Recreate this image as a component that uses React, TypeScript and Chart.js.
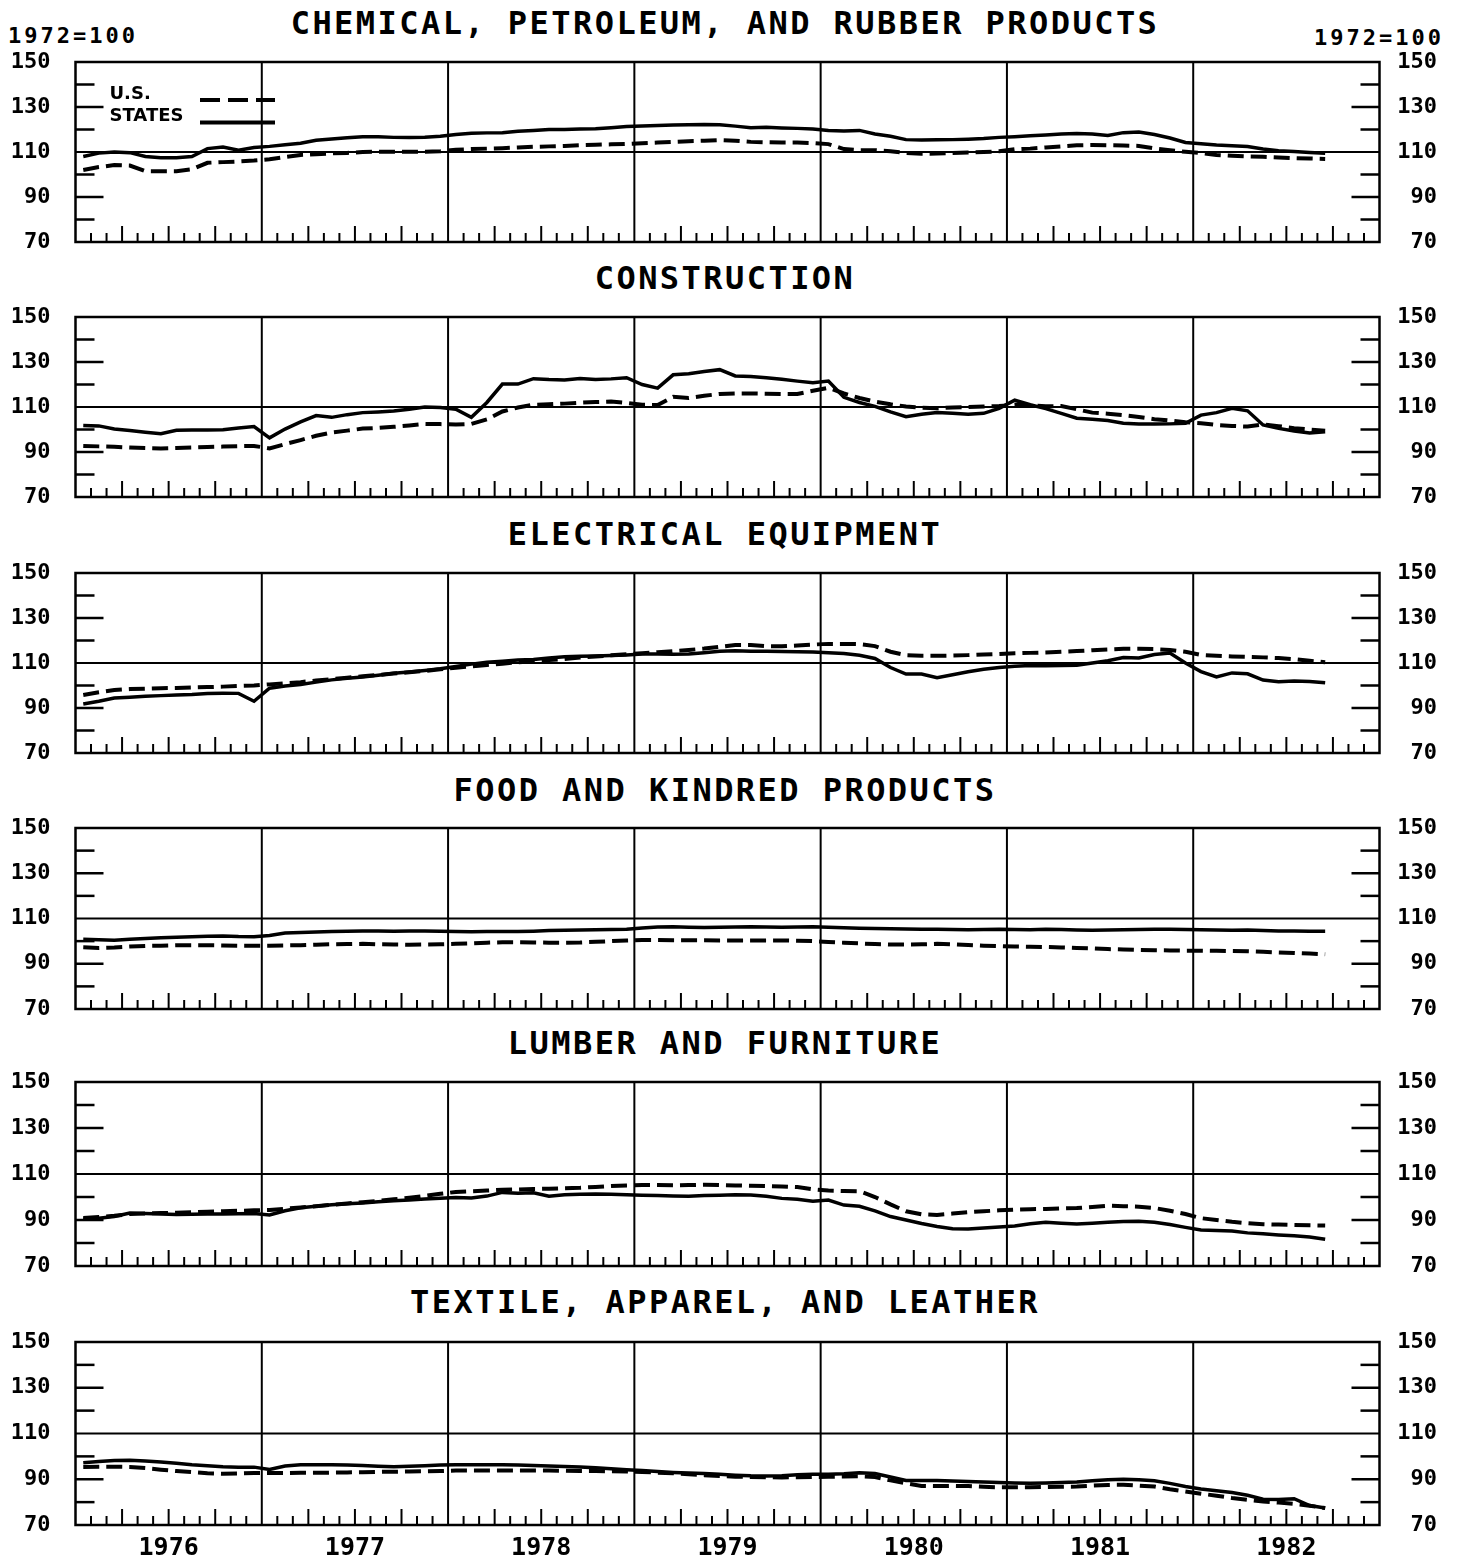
import React, { useEffect, useRef } from "react";
import { Chart, registerables } from "chart.js";

Chart.register(...registerables);

// ---------- DATA (monthly, Jan 1976 - Sep 1982, index 1972=100) ----------
const yearLabels = ["1976", "1977", "1978", "1979", "1980", "1981", "1982"];
const yTickValues = [70, 90, 110, 130, 150];
const seriesLabels = ["U.S.", "STATES"];
const indexBaseLabel = "1972=100";

const chemStates = [108, 109.5, 110, 109.7, 108, 107.5, 107.5, 108, 111.5, 112.2, 110.8, 112,
  112.5, 113.2, 113.9, 115.2, 115.8, 116.3, 116.8, 116.8, 116.5, 116.4, 116.6, 117,
  117.8, 118.3, 118.5, 118.6, 119.2, 119.6, 120, 120, 120.2, 120.3, 120.8, 121.3,
  121.6, 121.8, 122, 122.1, 122.2, 122.1, 121.5, 120.8, 121, 120.7, 120.5, 120.2,
  119.6, 119.3, 119.6, 118, 117, 115.5, 115.3, 115.4, 115.5, 115.7, 116, 116.5,
  116.8, 117.2, 117.6, 118, 118.2, 118, 117.3, 118.6, 118.9, 117.8, 116.2, 114.2,
  113.7, 113.1, 112.8, 112.4, 111.3, 110.6, 110.2, 109.8, 109.4];
const chemUS = [102, 103.3, 104.2, 104, 101.5, 101.5, 101.5, 102.3, 105.2, 105.5, 105.8, 106.2,
  106.8, 107.8, 108.7, 109, 109.4, 109.6, 110, 110.1, 110.1, 110.1, 110.1, 110.3,
  111, 111.3, 111.5, 111.7, 112, 112.3, 112.5, 112.7, 113, 113.2, 113.4, 113.6,
  113.9, 114.2, 114.5, 114.8, 115, 115.3, 115, 114.5, 114.3, 114.2, 114.2, 114,
  113.5, 111.3, 110.8, 110.8, 110.3, 109.6, 109.2, 109.3, 109.6, 109.8, 110, 110.3,
  111.2, 111.5, 112, 112.5, 113, 113.1, 113, 112.9, 112.7, 111.6, 110.8, 110.1,
  109.5, 108.7, 108.3, 108, 107.9, 107.6, 107.3, 107.1, 106.9];

const consStates = [101.8, 101.6, 100.2, 99.6, 98.8, 98.1, 99.7, 99.8, 99.8, 99.9, 100.7, 101.3,
  96.3, 100.2, 103.4, 106.2, 105.4, 106.6, 107.5, 107.8, 108.2, 109, 110, 109.8,
  109, 105.4, 112, 120.2, 120.2, 122.6, 122.2, 122, 122.7, 122.2, 122.5, 123,
  120, 118.4, 124.3, 124.8, 125.8, 126.6, 123.8, 123.6, 123, 122.3, 121.5, 120.8,
  121.5, 114.3, 112, 110.3, 107.8, 105.7, 106.8, 107.6, 107.2, 106.8, 107.2, 109.4,
  113, 111, 109.3, 107.2, 105, 104.6, 104, 102.8, 102.4, 102.4, 102.5, 102.8,
  106.4, 107.5, 109.4, 108.3, 102, 100.5, 99.3, 98.4, 99];
const consUS = [92.7, 92.5, 92.3, 92, 91.8, 91.6, 91.8, 92, 92.2, 92.4, 92.6, 92.7,
  91.6, 93.5, 95.3, 97.2, 98.7, 99.5, 100.4, 100.7, 101.2, 101.8, 102.5, 102.4,
  102.2, 102.5, 104.5, 108, 109.8, 111, 111.2, 111.5, 111.9, 112.2, 112.4, 111.8,
  111, 110.9, 114.5, 114, 115, 115.8, 116, 116, 115.9, 115.8, 115.8, 117.2,
  118.5, 116, 114, 112.4, 111.2, 110.2, 109.7, 109.4, 109.8, 110, 110.2, 110.4,
  111, 110.8, 110.3, 110.4, 109, 107.5, 107, 106.4, 105.6, 104.6, 104, 103.2,
  102.8, 102, 101.6, 101.3, 102.2, 101.5, 100.6, 100, 99.5];

const elecStates = [91.8, 93, 94.4, 94.8, 95.2, 95.5, 95.8, 96, 96.4, 96.6, 96.5, 93,
  98.8, 99.8, 100.4, 101.5, 102.5, 103.2, 103.8, 104.6, 105.4, 106, 106.7, 107.4,
  108.4, 109.5, 110.3, 110.8, 111.3, 111.6, 112.2, 112.8, 113, 113.1, 113.3, 113.6,
  114, 114, 113.9, 114, 114.6, 115.2, 115.4, 115.2, 115.2, 115.1, 115, 114.9,
  114.6, 114.2, 113.4, 112, 108, 105.1, 105.1, 103.5, 104.8, 106.1, 107.2, 108,
  108.6, 108.9, 108.8, 108.9, 109, 110, 111, 112.4, 112.2, 113.8, 114.4, 110,
  106.2, 103.8, 105.6, 105.2, 102.4, 101.7, 102, 101.8, 101.2];
const elecUS = [95.8, 97, 98, 98.4, 98.6, 98.8, 98.9, 99.1, 99.3, 99.5, 99.8, 100,
  100.5, 101, 101.5, 102.2, 102.8, 103.5, 104.1, 104.7, 105.3, 105.9, 106.5, 107.2,
  107.9, 108.5, 109.1, 109.7, 110.3, 110.8, 111.3, 111.8, 112.4, 112.9, 113.4, 113.9,
  114.3, 114.8, 115.3, 115.8, 116.4, 117.2, 118, 118, 117.5, 117.4, 117.8, 118.2,
  118.5, 118.5, 118.4, 117.5, 115, 113.5, 113.2, 113.2, 113.3, 113.5, 113.8, 114,
  114.3, 114.5, 114.7, 115, 115.3, 115.7, 116, 116.3, 116.3, 116.2, 115.8, 115,
  113.6, 113.2, 112.9, 112.7, 112.5, 112.2, 111.7, 111, 110.3];

const foodStates = [100.8, 100.6, 100.4, 100.8, 101.2, 101.5, 101.7, 101.9, 102.1, 102.3, 102, 101.9,
  102.5, 103.6, 103.8, 104, 104.3, 104.4, 104.5, 104.5, 104.4, 104.5, 104.5, 104.4,
  104.2, 104.1, 104.2, 104.3, 104.2, 104.4, 104.7, 104.8, 104.9, 105, 105.1, 105.3,
  105.8, 106.2, 106.3, 106.1, 106, 106.1, 106.2, 106.3, 106.2, 106.1, 106.2, 106.3,
  106.1, 105.9, 105.7, 105.6, 105.5, 105.4, 105.3, 105.2, 105.1, 105, 105.1, 105.2,
  105.1, 105, 105.2, 105.1, 104.9, 104.8, 104.9, 105, 105.1, 105.2, 105.3, 105.1,
  105, 104.9, 104.8, 104.9, 104.7, 104.5, 104.5, 104.4, 104.4];
const foodUS = [97.3, 97, 97.2, 97.6, 97.9, 98, 98.2, 98.2, 98.2, 98.1, 98, 98,
  98, 98.1, 98.2, 98.4, 98.6, 98.7, 98.8, 98.6, 98.5, 98.4, 98.5, 98.6,
  98.8, 99, 99.3, 99.5, 99.5, 99.4, 99.3, 99.3, 99.4, 99.7, 100, 100.3,
  100.5, 100.5, 100.4, 100.4, 100.4, 100.3, 100.3, 100.3, 100.3, 100.3, 100.2, 100,
  99.6, 99.3, 99, 98.7, 98.5, 98.5, 98.6, 98.8, 98.6, 98.3, 98, 97.8,
  97.6, 97.5, 97.4, 97.2, 97, 96.8, 96.5, 96.3, 96.1, 96, 95.9, 95.8,
  95.8, 95.7, 95.6, 95.5, 95.3, 95, 94.8, 94.5, 94.2];

const lumberStates = [90.4, 90.8, 91.5, 93, 92.8, 92.6, 92.4, 92.5, 92.6, 92.6, 92.7, 92.8,
  92.2, 94, 95.3, 96, 96.6, 97.1, 97.4, 97.9, 98.4, 98.7, 99.1, 99.5,
  99.8, 99.6, 100.4, 102, 101.6, 101.8, 100.3, 101, 101.2, 101.3, 101.2, 101,
  100.8, 100.6, 100.4, 100.3, 100.6, 100.8, 101, 100.9, 100.3, 99.4, 99, 98.2,
  98.7, 96.5, 96, 94, 91.5, 90, 88.5, 87.2, 86.2, 86.1, 86.5, 87,
  87.4, 88.4, 89, 88.6, 88.3, 88.6, 89, 89.3, 89.5, 89, 88, 86.8,
  85.7, 85.4, 85.2, 84.4, 84, 83.5, 83.1, 82.6, 81.6];
const lumberUS = [90.9, 91.3, 91.8, 92.6, 92.8, 93, 93.2, 93.4, 93.6, 93.8, 94, 94.2,
  94.4, 94.9, 95.4, 96, 96.6, 97.2, 97.7, 98.3, 99, 99.7, 100.5, 101.4,
  102.2, 102.5, 102.8, 103.2, 103.3, 103.5, 103.6, 103.8, 104, 104.4, 104.8, 105,
  105.2, 105.2, 105.1, 105.2, 105.3, 105.2, 105, 104.9, 104.8, 104.6, 104.3, 103.3,
  102.8, 102.6, 102.5, 100, 96.8, 93.8, 92.5, 92.2, 92.8, 93.4, 93.8, 94.2,
  94.5, 94.7, 94.8, 95, 95.2, 95.7, 96.2, 96, 95.8, 95.2, 94, 92.6,
  90.8, 90, 89.2, 88.6, 88.2, 88, 87.8, 87.7, 87.6];

const textStates = [97.2, 97.8, 98.2, 98.3, 98, 97.5, 97, 96.3, 95.9, 95.5, 95.3, 95.3,
  94.3, 95.8, 96.3, 96.3, 96.3, 96.2, 96, 95.7, 95.5, 95.7, 95.9, 96.2,
  96.3, 96.3, 96.3, 96.3, 96.2, 96, 95.8, 95.6, 95.4, 95, 94.6, 94.2,
  93.8, 93.4, 93, 92.7, 92.5, 92.2, 91.8, 91.5, 91.4, 91.5, 92, 92.2,
  92.2, 92.4, 92.8, 92.5, 91, 89.5, 89.5, 89.4, 89.2, 89, 88.8, 88.6,
  88.4, 88.3, 88.4, 88.6, 88.8, 89.3, 89.8, 90, 89.8, 89.3, 88.2, 86.8,
  85.7, 85, 84.2, 83, 81.3, 81.2, 81.5, 78.5, 77.4];
const textUS = [95.4, 95.5, 95.5, 95.4, 94.9, 94.2, 93.6, 93.1, 92.6, 92.4, 92.5, 92.7,
  92.7, 92.7, 92.8, 92.8, 92.9, 93, 93.1, 93.2, 93.3, 93.4, 93.5, 93.6,
  93.8, 93.8, 93.8, 93.8, 93.8, 93.8, 93.8, 93.7, 93.6, 93.6, 93.5, 93.4,
  93.2, 92.9, 92.6, 92.2, 91.8, 91.4, 91.1, 91, 90.9, 90.8, 90.9, 91,
  91.1, 91.2, 91.3, 91, 89.5, 88.2, 87.1, 87, 87.1, 87, 86.7, 86.5,
  86.5, 86.5, 86.6, 86.7, 86.8, 87.2, 87.5, 87.6, 87.2, 86.8, 85.6, 84.6,
  83.7, 82.8, 81.8, 81, 80.3, 79.8, 79.2, 78.4, 77.4];

const panelTitles = [
  "CHEMICAL, PETROLEUM, AND RUBBER PRODUCTS",
  "CONSTRUCTION",
  "ELECTRICAL EQUIPMENT",
  "FOOD AND KINDRED PRODUCTS",
  "LUMBER AND FURNITURE",
  "TEXTILE, APPAREL, AND LEATHER",
];
const panelStates = [chemStates, consStates, elecStates, foodStates, lumberStates, textStates];
const panelUS = [chemUS, consUS, elecUS, foodUS, lumberUS, textUS];

// ---------- LAYOUT ----------
const PLOT_TOPS = [62, 317, 573, 828, 1082, 1342];
const PLOT_BOTTOMS = [242, 497, 753, 1009, 1266, 1525];
const TITLE_CY = [22, 277, 533, 789, 1042, 1301];
const PLOT_LEFT = 75.5;
const PLOT_RIGHT = 1379.5;
const CANVAS_W = 1437;
const PAD = 16;
const X_AXIS_H = 46;
const MONO = '"DejaVu Sans Mono", "Liberation Mono", monospace';

const framePlugin = {
  id: "frame",
  beforeDatasetsDraw(chart: any, _args: any, opts: any) {
    const { ctx, chartArea: a, scales } = chart;
    const xs = scales.x;
    const ys = scales.y;
    ctx.save();
    ctx.strokeStyle = "#000";
    ctx.lineCap = "butt";
    const seg = (x1: number, y1: number, x2: number, y2: number, w: number) => {
      ctx.lineWidth = w;
      ctx.beginPath();
      ctx.moveTo(x1, y1);
      ctx.lineTo(x2, y2);
      ctx.stroke();
    };
    // reference line at 110
    const y110 = ys.getPixelForValue(110);
    seg(a.left, y110, a.right, y110, 2);
    // year separators
    for (let k = 1; k < yearLabels.length; k++) {
      const px = xs.getPixelForValue(12 * k);
      seg(px, a.top, px, a.bottom, 2);
    }
    // inward y ticks on both sides
    [80, 90, 100, 120, 130, 140].forEach((v) => {
      const py = ys.getPixelForValue(v);
      const len = v === 90 || v === 130 ? 28 : 19;
      seg(a.left, py, a.left + len, py, 2.5);
      seg(a.right - len, py, a.right, py, 2.5);
    });
    // month ticks along the bottom
    for (let m = 1; m < 12 * yearLabels.length; m++) {
      if (m % 12 === 0) continue;
      const px = xs.getPixelForValue(m);
      const len = m % 3 === 0 ? 16 : 9;
      seg(px, a.bottom, px, a.bottom - len, 2);
    }
    ctx.lineWidth = 2.5;
    ctx.strokeRect(a.left, a.top, a.right - a.left, a.bottom - a.top);

    if (opts && opts.legend) {
      ctx.fillStyle = "#000";
      ctx.font = 'bold 18px "DejaVu Sans", "Liberation Sans", sans-serif';
      ctx.textBaseline = "middle";
      ctx.textAlign = "left";
      const tx = a.left + 34;
      ctx.fillText(seriesLabels[0], tx, a.top + 32);
      ctx.fillText(seriesLabels[1], tx, a.top + 54);
      ctx.lineWidth = 4;
      ctx.setLineDash([20, 8]);
      ctx.beginPath();
      ctx.moveTo(a.left + 124.5, a.top + 38);
      ctx.lineTo(a.left + 199.5, a.top + 38);
      ctx.stroke();
      ctx.setLineDash([]);
      ctx.lineWidth = 4;
      ctx.beginPath();
      ctx.moveTo(a.left + 124.5, a.top + 60.5);
      ctx.lineTo(a.left + 199.5, a.top + 60.5);
      ctx.stroke();
    }
    ctx.restore();
  },
};

const toPoints = (vals: number[]) => vals.map((v, i) => ({ x: i + 0.5, y: v }));

function Panel({ idx }: { idx: number }) {
  const ref = useRef<HTMLCanvasElement>(null);
  const isLast = idx === panelTitles.length - 1;
  const plotH = PLOT_BOTTOMS[idx] - PLOT_TOPS[idx];
  const canvasH = plotH + PAD + (isLast ? X_AXIS_H : PAD);
  const canvasTop = PLOT_TOPS[idx] - PAD;

  useEffect(() => {
    const tickFont = { family: MONO, size: 22, weight: "bold" as const };
    const yAxis = (position: "left" | "right") => ({
      type: "linear" as const,
      position,
      min: 70,
      max: 150,
      grid: { display: false, drawTicks: false },
      border: { display: false },
      afterBuildTicks: (s: any) => {
        s.ticks = yTickValues.map((v) => ({ value: v }));
      },
      afterFit: (s: any) => {
        s.width = position === "left" ? PLOT_LEFT : CANVAS_W - PLOT_RIGHT;
        s.paddingTop = 0;
        s.paddingBottom = 0;
      },
      ticks: {
        autoSkip: false,
        padding: position === "left" ? 25 : 18,
        crossAlign: position === "left" ? ("near" as const) : ("far" as const),
        color: "#000",
        font: tickFont,
      },
    });
    const chart = new Chart(ref.current as HTMLCanvasElement, {
      type: "line",
      data: {
        datasets: [
          {
            label: seriesLabels[0],
            data: toPoints(panelUS[idx]),
            borderColor: "#000",
            borderWidth: 4,
            borderDash: [16, 7],
            pointRadius: 0,
            fill: false,
            tension: 0,
            yAxisID: "y",
          },
          {
            label: seriesLabels[1],
            data: toPoints(panelStates[idx]),
            borderColor: "#000",
            borderWidth: 3.5,
            pointRadius: 0,
            fill: false,
            tension: 0,
            yAxisID: "y",
          },
        ],
      },
      options: {
        responsive: false,
        maintainAspectRatio: false,
        animation: false,
        events: [],
        layout: { padding: { top: PAD, bottom: isLast ? 0 : PAD, left: 0, right: 0 } },
        plugins: {
          legend: { display: false },
          tooltip: { enabled: false },
          title: { display: false },
          frame: { legend: idx === 0 },
        } as any,
        scales: {
          x: {
            type: "linear",
            min: 0,
            max: 12 * yearLabels.length,
            display: isLast,
            position: "bottom",
            grid: { display: false, drawTicks: false },
            border: { display: false },
            afterBuildTicks: (s: any) => {
              s.ticks = yearLabels.map((_, k) => ({ value: 12 * k + 6 }));
            },
            afterFit: (s: any) => {
              if (isLast) s.height = X_AXIS_H;
              else s.height = 0;
              s.paddingLeft = 0;
              s.paddingRight = 0;
            },
            ticks: {
              autoSkip: false,
              maxRotation: 0,
              padding: 8,
              color: "#000",
              font: { family: MONO, size: 25, weight: "bold" },
              callback: (v: any) => yearLabels[Math.round((Number(v) - 6) / 12)] ?? "",
            },
          },
          y: yAxis("left"),
          y2: yAxis("right"),
        } as any,
      },
      plugins: [framePlugin],
    });
    return () => chart.destroy();
  }, [idx]);

  return (
    <canvas
      ref={ref}
      width={CANVAS_W}
      height={canvasH}
      style={{ position: "absolute", left: 0, top: canvasTop, width: CANVAS_W, height: canvasH }}
    />
  );
}

export default function App() {
  const titleStyle = (cy: number): React.CSSProperties => ({
    position: "absolute",
    left: 0,
    width: 1450,
    top: cy - 15,
    textAlign: "center",
    font: `bold 32px ${MONO}`,
    lineHeight: "32px",
    letterSpacing: "2.45px",
    whiteSpace: "nowrap",
    color: "#000",
  });
  const baseStyle = (left: number, cy: number): React.CSSProperties => ({
    position: "absolute",
    left,
    top: cy - 10,
    font: `bold 22px ${MONO}`,
    lineHeight: "22px",
    letterSpacing: "3px",
    whiteSpace: "nowrap",
    color: "#000",
  });
  return (
    <div style={{ position: "absolute", left: 0, top: 0, width: 1460, height: 1558, background: "#fff", overflow: "hidden" }}>
      {panelTitles.map((t, i) => (
        <div key={"t" + i} style={titleStyle(TITLE_CY[i])}>{t}</div>
      ))}
      <div style={baseStyle(8, 35)}>{indexBaseLabel}</div>
      <div style={baseStyle(1314, 37)}>{indexBaseLabel}</div>
      {panelTitles.map((_, i) => (
        <Panel key={"p" + i} idx={i} />
      ))}
    </div>
  );
}
